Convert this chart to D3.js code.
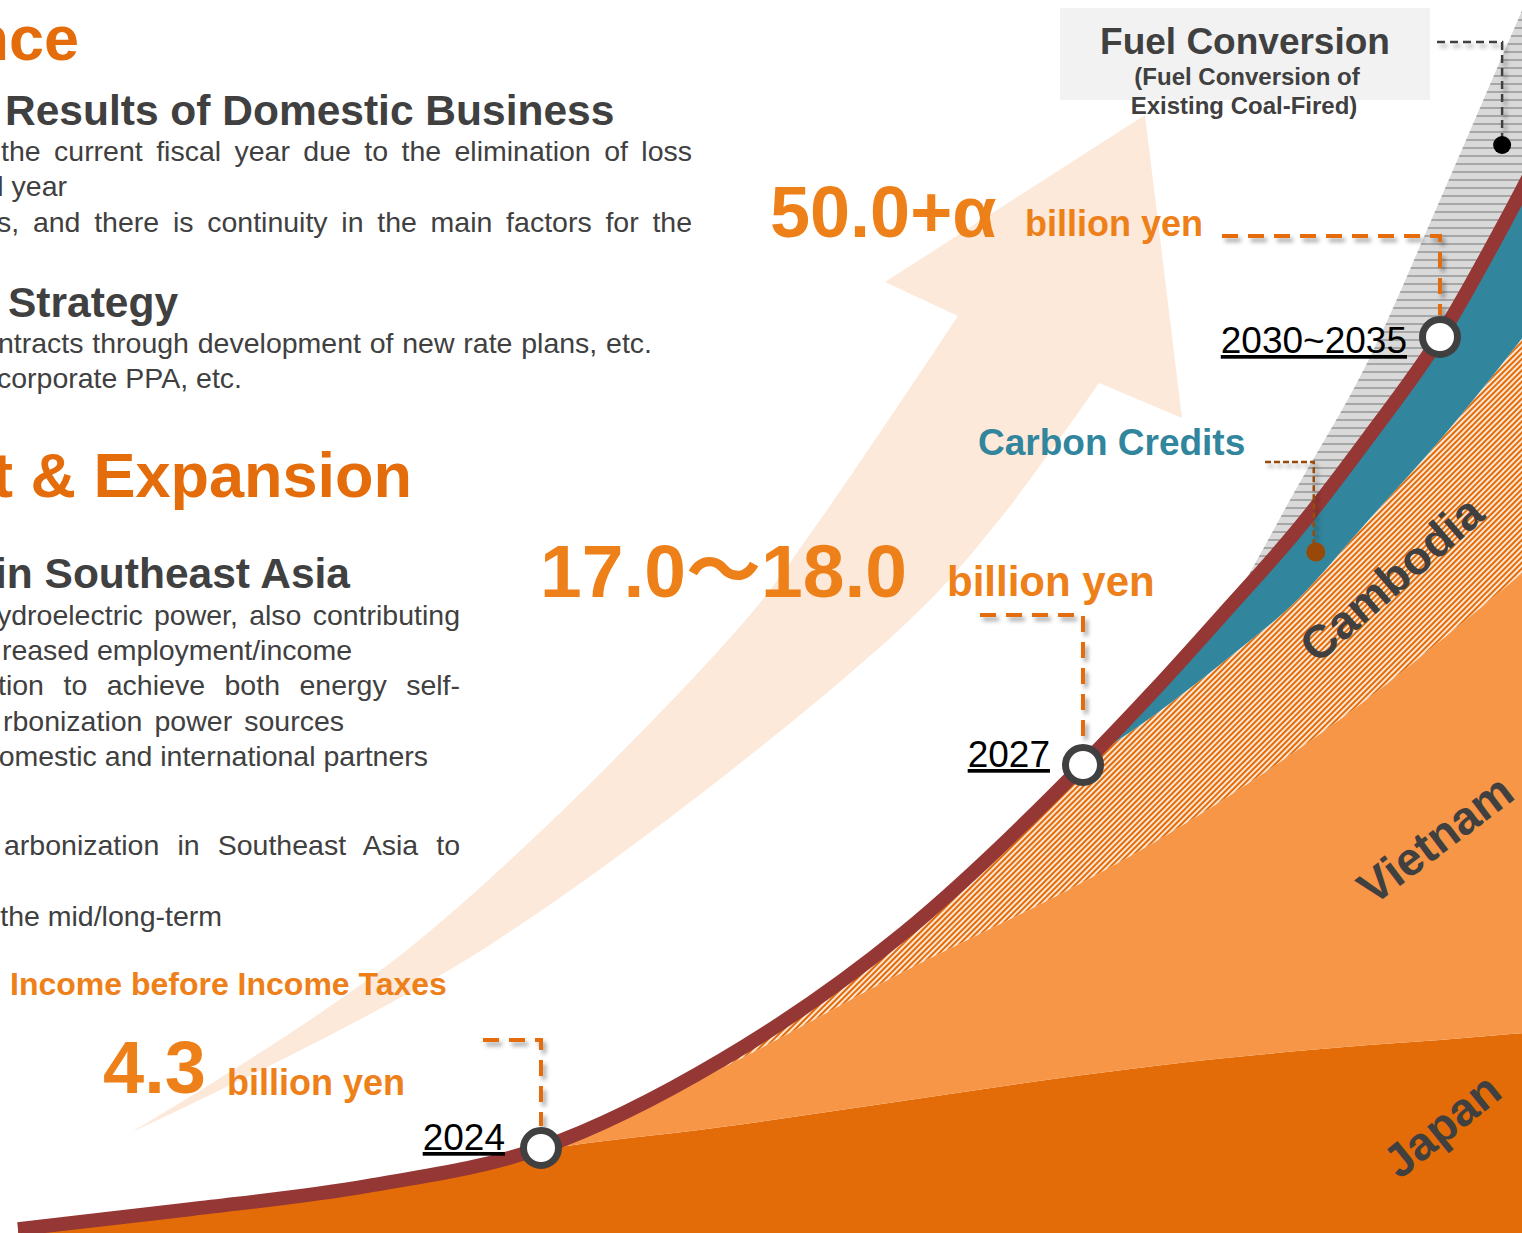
<!DOCTYPE html>
<html>
<head>
<meta charset="utf-8">
<script src="https://cdn.jsdelivr.net/npm/d3@7"></script>
<style>
  html, body { margin: 0; padding: 0; background: #ffffff; overflow: hidden; }
  svg { display: block; }
</style>
</head>
<body>
<svg id="chart" width="1522" height="1233"></svg>
<script>
// ---- Data: income before income taxes build-up by business (billion yen, stacked) ----
const years          = [2021, 2022, 2023, 2024, 2025, 2026, 2027, 2028, 2029, 2030, 2031, 2032, 2033, 2034];
const japan          = [0.51, 1.45, 2.52, 4.20, 5.02, 5.92, 6.82, 7.13, 7.40, 7.64, 7.85, 8.02, 8.23, 8.37];
const vietnam        = [0, 0, 0, 0.10, 2.04, 4.44, 6.65, 7.71, 8.96, 11.00, 14.74, 18.90, 23.17, 27.73];
const cambodia       = [0, 0, 0, 0, 0.27, 1.31, 4.03, 6.46, 9.11, 11.39, 13.51, 15.26, 17.46, 20.12];
const carbonCredits  = [0, 0, 0, 0, 0, 0, 0, 1.89, 3.72, 5.31, 6.30, 7.82, 10.78, 14.05];
const fuelConversion = [0, 0, 0, 0, 0, 0, 0, 0, 0, 3.27, 5.85, 10.40, 13.29, 15.19];

const seriesKeys   = ["Japan", "Vietnam", "Cambodia", "Carbon Credits", "Fuel Conversion"];
const seriesLabels = ["Japan", "Vietnam", "Cambodia"];

// Milestones on the income curve
const milestoneYears  = [2024, 2027, 2032];
const milestoneValues = [4.3, 17.5, 50.0];
const milestoneLabels = ["2024", "2027", "2030~2035"];
const valueLabels     = ["4.3", "17.0～18.0", "50.0+α"];

// ---- Scales ----
const x = d3.scaleLinear().domain([2021, 2024, 2027, 2032]).range([18, 541, 1083, 1440]);
const y = d3.scaleLinear().domain([0, 4.3, 17.5, 50]).range([1240, 1148, 765, 337]);

const C = {
  japan: "#E36C09", vietnam: "#F79646", hatch: "#E36C09", teal: "#31859C",
  curve: "#953735", gray: "#D9D9D9", grayLine: "#9A9A9A", peach: "#FCE9DA",
  head: "#E46C0A", num: "#EE8019", text: "#404040", brown: "#984807"
};
const FONT = "'Liberation Sans', Arial, 'Noto Sans CJK JP', sans-serif";

const svg = d3.select("#chart");
const defs = svg.append("defs");

// Hatch for Cambodia
const ph = defs.append("pattern").attr("id", "hatchCambodia")
  .attr("width", 4).attr("height", 4).attr("patternUnits", "userSpaceOnUse")
  .attr("patternTransform", "rotate(45)");
ph.append("rect").attr("width", 4).attr("height", 4).attr("fill", "#FFF4EA");
ph.append("line").attr("x1", 2).attr("y1", 0).attr("x2", 2).attr("y2", 4)
  .attr("stroke", C.hatch).attr("stroke-width", 2.2);

// Horizontal rules for fuel conversion
const pg = defs.append("pattern").attr("id", "hatchFuel")
  .attr("width", 10).attr("height", 8).attr("patternUnits", "userSpaceOnUse");
pg.append("rect").attr("width", 10).attr("height", 8).attr("fill", C.gray);
pg.append("line").attr("x1", 0).attr("y1", 4).attr("x2", 10).attr("y2", 4)
  .attr("stroke", C.grayLine).attr("stroke-width", 1.6);

// Soft shadow for leader lines
const f = defs.append("filter").attr("id", "shadow")
  .attr("x", "-20%").attr("y", "-20%").attr("width", "140%").attr("height", "140%");
f.append("feDropShadow").attr("dx", 3).attr("dy", 4).attr("stdDeviation", 2)
  .attr("flood-color", "#000").attr("flood-opacity", 0.35);

// ---- Background growth arrow ----
const arrowUpper = [[130, 1133], [407, 950], [737, 630], [820, 520], [958, 316]];
const arrowHead  = [[885, 282], [1145, 115], [1182, 418], [1099, 383]];
const arrowLower = [[1099, 383], [999, 520], [899, 630], [482, 950], [130, 1133]];
const edge = d3.line().curve(d3.curveCatmullRom.alpha(0.5));
const arrowPath = edge(arrowUpper)
  + arrowHead.map(p => "L" + p[0] + "," + p[1]).join("")
  + edge(arrowLower).replace(/^M/, "L") + "Z";
svg.append("path").attr("d", arrowPath).attr("fill", C.peach);

// ---- Stacked layers ----
const rows = years.map((yr, i) => ({
  year: yr,
  "Japan": japan[i],
  "Vietnam": vietnam[i],
  "Cambodia": cambodia[i],
  "Carbon Credits": carbonCredits[i],
  "Fuel Conversion": fuelConversion[i]
}));
const stacked = d3.stack().keys(seriesKeys)(rows);
const fills = {
  "Japan": C.japan, "Vietnam": C.vietnam, "Cambodia": "url(#hatchCambodia)",
  "Carbon Credits": C.teal, "Fuel Conversion": "url(#hatchFuel)"
};
const area = d3.area()
  .x(d => x(d.data.year)).y0(d => y(d[0])).y1(d => y(d[1]))
  .curve(d3.curveMonotoneX);

svg.append("g").selectAll("path").data(stacked).join("path")
  .attr("d", area).attr("fill", d => fills[d.key]);

// Income curve = top of the business stack (without fuel conversion upside)
const totalLine = d3.line()
  .x(d => x(d.data.year)).y(d => y(d[1]))
  .curve(d3.curveMonotoneX);
svg.append("path").datum(stacked[3])
  .attr("d", totalLine).attr("fill", "none")
  .attr("stroke", C.curve).attr("stroke-width", 14);

// ---- Leader lines ----
const leaders = svg.append("g").attr("filter", "url(#shadow)").attr("fill", "none");
const mx = milestoneYears.map(v => x(v));
const my = milestoneValues.map(v => y(v));
const leaderTops = [[483, 1040], [980, 615], [1222, 236]];
leaderTops.forEach((p, i) => {
  leaders.append("path")
    .attr("d", `M${p[0]},${p[1]}H${mx[i]}V${my[i] - 22}`)
    .attr("stroke", C.head).attr("stroke-width", 4).attr("stroke-dasharray", "16 10");
});

// Carbon credit pointer
const carbonDot = { year: 2030.26, value: 33.67 };
const cdx = x(carbonDot.year), cdy = y(carbonDot.value);
leaders.append("path").attr("d", `M1265,462H${cdx - 2}V${cdy - 6}`)
  .attr("stroke", C.brown).attr("stroke-width", 2.5).attr("stroke-dasharray", "6 3");
svg.append("circle").attr("cx", cdx).attr("cy", cdy).attr("r", 9.5).attr("fill", C.brown);

// Fuel conversion pointer
const fuelDot = { year: 2032.87, value: 64.58 };
const fdx = x(fuelDot.year), fdy = y(fuelDot.value);
leaders.append("path").attr("d", `M1437,42H${fdx}V${fdy - 6}`)
  .attr("stroke", C.text).attr("stroke-width", 2.5).attr("stroke-dasharray", "8 5");
svg.append("circle").attr("cx", fdx).attr("cy", fdy).attr("r", 9).attr("fill", "#000");

// ---- Milestone markers ----
svg.append("g").selectAll("circle").data(milestoneYears).join("circle")
  .attr("cx", (d, i) => mx[i]).attr("cy", (d, i) => my[i]).attr("r", 17.5)
  .attr("fill", "#fff").attr("stroke", C.text).attr("stroke-width", 7);

// ---- Text ----
function label(opts) {
  const t = svg.append("text")
    .attr("x", opts.x).attr("y", opts.y)
    .attr("font-family", FONT)
    .attr("font-size", opts.size)
    .attr("font-weight", opts.bold ? "bold" : "normal")
    .attr("fill", opts.fill || C.text)
    .attr("text-anchor", opts.anchor || "start")
    .text(opts.text);
  if (opts.underline) t.style("text-decoration", "underline");
  if (opts.rotate != null) t.attr("transform", `rotate(${opts.rotate},${opts.x},${opts.y})`);
  return t;
}

// Justified body line: spread the words so the line runs from x0 to x1
function bodyLine(text, yPos, x0, x1, size) {
  const t = label({ text, x: x0, y: yPos, size });
  const natural = t.node().getComputedTextLength();
  const spaces = (text.match(/ /g) || []).length;
  if (spaces) t.attr("word-spacing", ((x1 - x0) - natural) / spaces);
  return t;
}

// Left-hand narrative (page continues off the left edge)
const S = 28.5;
label({ text: "nce", x: 79, y: 60, size: 63, bold: true, fill: C.head, anchor: "end" });
label({ text: "Results of Domestic Business", x: 5, y: 125, size: 42.5, bold: true });
bodyLine("the current fiscal year due to the elimination of loss", 161, 1, 692, S);
label({ text: "l year", x: 67, y: 196, size: S, anchor: "end" });
bodyLine("s, and there is continuity in the main factors for the", 232, -3, 692, S);
label({ text: "Strategy", x: 8, y: 317, size: 42.5, bold: true });
bodyLine("ntracts through development of new rate plans, etc.", 353, -2, 652, S);
label({ text: "corporate PPA, etc.", x: 242, y: 388, size: S, anchor: "end" });

label({ text: "t & Expansion", x: 412, y: 497, size: 63, bold: true, fill: C.head, anchor: "end" });
label({ text: "in Southeast Asia", x: 350, y: 588, size: 42.5, bold: true, anchor: "end" });
bodyLine("ydroelectric power, also contributing", 625, -3, 460, S);
label({ text: "reased employment/income", x: 352, y: 660, size: S, anchor: "end" });
bodyLine("tion to achieve both energy self-", 695, -2, 460, S);
bodyLine("rbonization power sources", 731, 3, 344, S);
label({ text: "omestic and international partners", x: 428, y: 766, size: S, anchor: "end" });
bodyLine("arbonization in Southeast Asia to", 855, 4, 460, S);
label({ text: "the mid/long-term", x: 222, y: 926, size: S, anchor: "end" });

label({ text: "Income before Income Taxes", x: 10, y: 995, size: 32, bold: true, fill: C.num });

// Value call-outs
const valuePos = [[103, 1093, 74], [540, 597, 75], [770, 237, 72]];
const unitPos  = [[227, 1095, 36], [947, 596, 42], [1025, 236, 36]];
valueLabels.forEach((v, i) => {
  label({ text: v, x: valuePos[i][0], y: valuePos[i][1], size: valuePos[i][2], bold: true, fill: C.num });
  label({ text: "billion yen", x: unitPos[i][0], y: unitPos[i][1], size: unitPos[i][2], bold: true, fill: C.num });
});

// Milestone year labels
const yearLabelPos = [[505, 1150], [1050, 767], [1407, 353]];
milestoneLabels.forEach((t, i) => {
  label({ text: t, x: yearLabelPos[i][0], y: yearLabelPos[i][1], size: 37, fill: "#000", anchor: "end", underline: true });
});

// Carbon credits title
label({ text: "Carbon Credits", x: 978, y: 455, size: 37, bold: true, fill: C.teal });

// Fuel conversion box
svg.append("rect").attr("x", 1060).attr("y", 8).attr("width", 370).attr("height", 92).attr("fill", "#F2F2F2");
label({ text: "Fuel Conversion", x: 1245, y: 54, size: 37, bold: true, anchor: "middle" });
label({ text: "(Fuel Conversion of", x: 1247, y: 85, size: 24, bold: true, anchor: "middle" });
label({ text: "Existing Coal-Fired)", x: 1244, y: 114, size: 24, bold: true, anchor: "middle" });

// Layer names along the curve
const layerLabelPos = [[1452, 1138, -39], [1445, 852, -37], [1402, 591, -41]];
seriesLabels.forEach((t, i) => {
  const p = layerLabelPos[i];
  label({ text: t, x: p[0], y: p[1], size: 46.5, bold: true, anchor: "middle", rotate: p[2] });
});
</script>
</body>
</html>
